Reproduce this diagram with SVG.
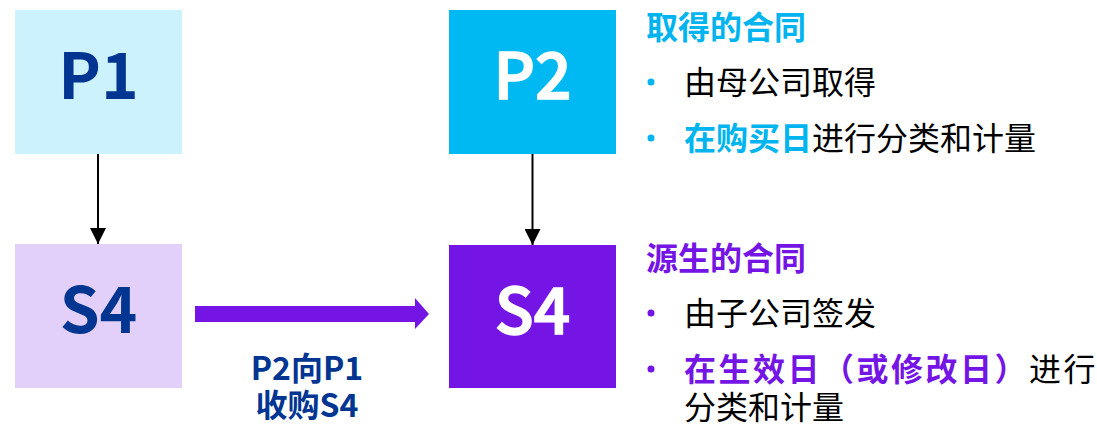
<svg xmlns="http://www.w3.org/2000/svg" width="1097" height="424" viewBox="0 0 1097 424">
<defs>
<style>
.big{font-family:"Noto Sans CJK SC","Noto Sans",sans-serif;font-size:64px;text-anchor:middle}
.wt{fill:#fff;font-weight:500;stroke:#fff;stroke-width:1.6}
.cjk{font-family:"Noto Sans CJK SC",sans-serif;font-size:32px}
.b{font-weight:bold}
.blk{fill:#000}
.cyan{fill:#00B4EF}
.purp{fill:#7415E6}
.navy{fill:#003591}
</style>
<marker id="ah" markerWidth="16" markerHeight="16" viewBox="0 0 16 16" refX="16" refY="8" orient="auto" markerUnits="userSpaceOnUse">
<path d="M0,0 L16,8 L0,16 Z" fill="#000"/>
</marker>
</defs>
<rect width="1097" height="424" fill="#fff"/>
<g id="connectors">
<line x1="98" y1="154" x2="98" y2="244" stroke="#000" stroke-width="2" marker-end="url(#ah)"/>
<line x1="532.5" y1="154" x2="532.5" y2="245" stroke="#000" stroke-width="2" marker-end="url(#ah)"/>
<path d="M195,306 L415,306 L415,298 L429,314 L415,329 L415,322 L195,322 Z" fill="#7415E6"/>
<text class="cjk b navy" font-size="27" text-anchor="middle" x="307" y="380">P2向P1<tspan x="307" y="417">收购S4</tspan></text>
</g>
<g id="P1">
<rect x="15" y="10" width="167" height="144" fill="#CCF2FE"/>
<text class="big b navy" x="98.5" y="99">P1</text>
</g>
<g id="S4-left">
<rect x="15" y="244" width="167" height="144" fill="#E2D0FA"/>
<text class="big b navy" x="98.5" y="333">S4</text>
</g>
<g id="P2">
<rect x="449" y="10" width="167" height="144" fill="#00B8F2"/>
<text class="big wt" x="532.5" y="98.5">P2</text>
</g>
<g id="S4-right">
<rect x="449" y="245" width="167" height="143" fill="#7415E6"/>
<text class="big wt" x="532.5" y="334">S4</text>
</g>
<g id="acquired">
<text class="cjk b cyan" x="646" y="39">取得的合同</text>
<circle cx="651" cy="82" r="3.5" fill="#00B4EF"/>
<text class="cjk blk" x="684" y="94">由母公司取得</text>
<circle cx="651" cy="138" r="3.5" fill="#00B4EF"/>
<text class="cjk blk" x="684" y="150"><tspan class="b cyan">在购买日</tspan>进行分类和计量</text>
</g>
<g id="originated">
<text class="cjk b purp" x="646" y="270">源生的合同</text>
<circle cx="651" cy="313" r="3.5" fill="#7415E6"/>
<text class="cjk blk" x="684" y="325">由子公司签发</text>
<circle cx="651" cy="369" r="3.5" fill="#7415E6"/>
<text class="cjk blk" x="684" y="381" letter-spacing="2.5"><tspan class="b purp">在生效日（或修改日）</tspan>进行</text>
<text class="cjk blk" x="684" y="419">分类和计量</text>
</g>
</svg>
